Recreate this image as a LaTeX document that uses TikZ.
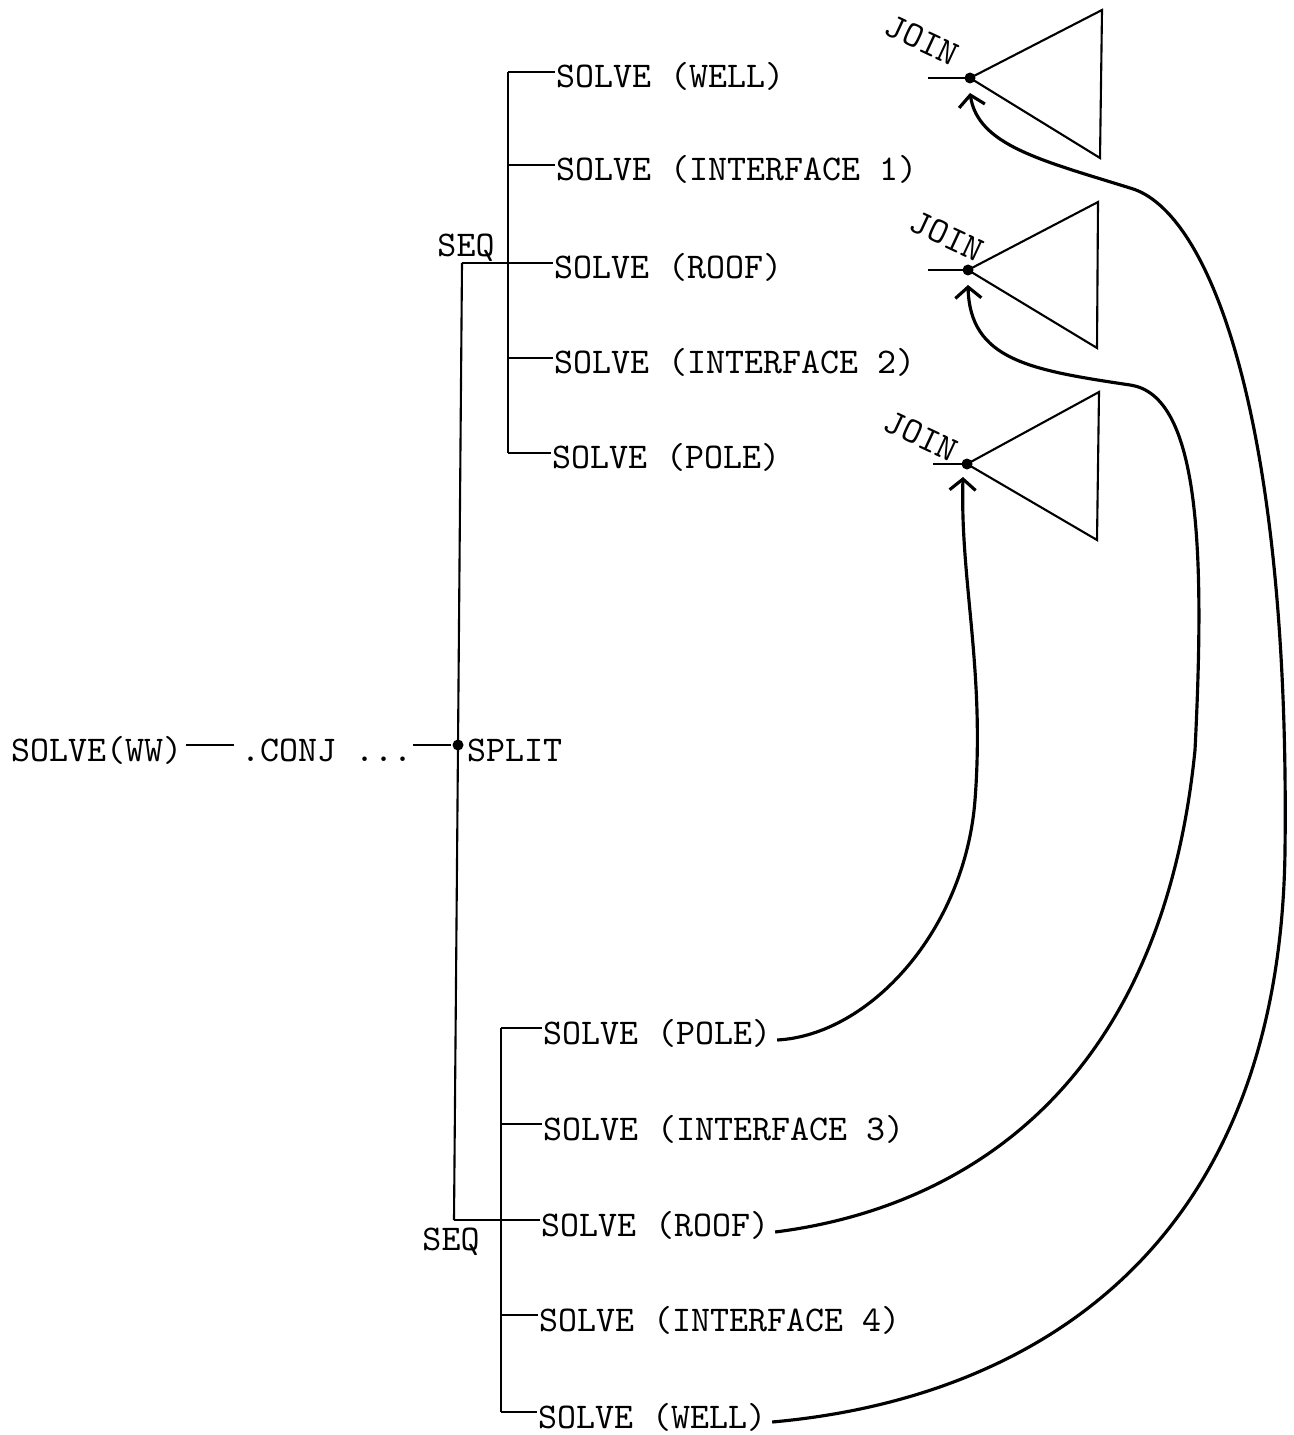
\documentclass[tikz,border=0pt]{standalone}
\usepackage{fontspec}
\usepackage{tikz}
\usetikzlibrary{arrows.meta}

\begin{document}
\begin{tikzpicture}[font=\ttfamily\fontsize{10.3}{12}\selectfont,line width=0.6pt,
  t/.style={anchor=west,inner sep=0pt,text height=3.2mm,text depth=0pt},
  jn/.style={rotate=-25,inner sep=0pt},
  dot/.style={circle,fill,inner sep=0pt,minimum size=1.1mm},
  arr/.style={line width=0.9pt,-{Straight Barb[length=1.1mm,width=2.6mm]}}]
\useasboundingbox (0,0) rectangle (12.94,-14.35);
% ---- root: SOLVE(WW) -> CONJ -> SPLIT ----
\node[t] (ww)   at (0.10,-7.45) {SOLVE(WW)};
\node[t] (conj) at (2.40,-7.45) {.CONJ ...};
\node[dot] (split) at (4.58,-7.45) {};
\node[t] (spl)  at (4.66,-7.45) {SPLIT};
\draw ([xshift=0.3mm]ww.east) -- ([xshift=-0.6mm]conj.west);
\draw (conj.east) -- (split);
\coordinate (c1) at (4.62,-2.63);
\coordinate (c2) at (4.54,-12.20);
\draw (c1) -- (split.center) -- (c2);
% ---- upper SEQ ----
\node (seq1) at (4.66,-2.48) {SEQ};
\coordinate (ua) at (5.08,-0.72);
\coordinate (ub) at (5.08,-4.53);
\draw (ua) -- (ub);
\node[t] (w1) at (5.55,-0.72) {SOLVE (WELL)};
\node[t] (i1) at (5.55,-1.65) {SOLVE (INTERFACE 1)};
\node[t] (r1) at (5.53,-2.63) {SOLVE (ROOF)};
\node[t] (i2) at (5.53,-3.58) {SOLVE (INTERFACE 2)};
\node[t] (p1) at (5.51,-4.53) {SOLVE (POLE)};
\draw (ua) -- (w1.west);
\draw (ua |- i1.west) -- (i1.west);
\draw (c1) -- (r1.west);
\draw (ua |- i2.west) -- (i2.west);
\draw (ub) -- (p1.west);
% ---- lower SEQ ----
\node (seq2) at (4.51,-12.42) {SEQ};
\coordinate (la) at (5.01,-10.28);
\coordinate (lb) at (5.01,-14.12);
\draw (la) -- (lb);
\node[t] (p2) at (5.42,-10.28) {SOLVE (POLE)};
\node[t] (i3) at (5.42,-11.24) {SOLVE (INTERFACE 3)};
\node[t] (r2) at (5.40,-12.20) {SOLVE (ROOF)};
\node[t] (i4) at (5.38,-13.15) {SOLVE (INTERFACE 4)};
\node[t] (w2) at (5.37,-14.12) {SOLVE (WELL)};
\draw (la) -- (p2.west);
\draw (la |- i3.west) -- (i3.west);
\draw (c2) -- (r2.west);
\draw (la |- i4.west) -- (i4.west);
\draw (lb) -- (w2.west);
% ---- JOIN triangles ----
\coordinate (j1) at (9.70,-0.78);
\coordinate (j2) at (9.68,-2.70);
\coordinate (j3) at (9.67,-4.64);
\draw (j1) -- (11.02,-0.10) -- (11.00,-1.58) -- cycle;
\draw (j2) -- (10.98,-2.02) -- (10.97,-3.48) -- cycle;
\draw (j3) -- (10.99,-3.92) -- (10.97,-5.40) -- cycle;
\draw (j1) -- ++(-0.42,0);
\draw (j2) -- ++(-0.40,0);
\draw (j3) -- ++(-0.34,0);
\node[dot] (d1) at (j1) {};
\node[dot] (d2) at (j2) {};
\node[dot] (d3) at (j3) {};
\node[jn] (jl1) at (9.22,-0.40) {JOIN};
\node[jn] (jl2) at (9.47,-2.36) {JOIN};
\node[jn] (jl3) at (9.21,-4.36) {JOIN};
% ---- lower solves feed the joins ----
\draw[arr] ([xshift=0.5mm,yshift=-1.2mm]p2.east) .. controls (8.7,-10.35) and (9.65,-9.3) .. (9.75,-8.0)
  .. controls (9.85,-6.7) and (9.6,-5.8) .. ([xshift=-0.4mm,yshift=-1.3mm]j3);
\draw[arr] ([xshift=0.5mm,yshift=-1.2mm]r2.east) .. controls (9.5,-12.1) and (11.6,-11.0) .. (11.95,-7.5)
  .. controls (12.05,-5.5) and (12.0,-3.95) .. (11.3,-3.85)
  .. controls (10.3,-3.7) and (9.7,-3.6) .. ([yshift=-1.5mm]j2);
\draw[arr] ([xshift=0.5mm,yshift=-1.0mm]w2.east) .. controls (10.2,-14.0) and (12.8,-12.6) .. (12.85,-8.5)
  .. controls (12.9,-4.2) and (12.1,-2.1) .. (11.3,-1.88)
  .. controls (10.4,-1.6) and (9.78,-1.45) .. ([yshift=-1.5mm]j1);
\end{tikzpicture}
\end{document}
